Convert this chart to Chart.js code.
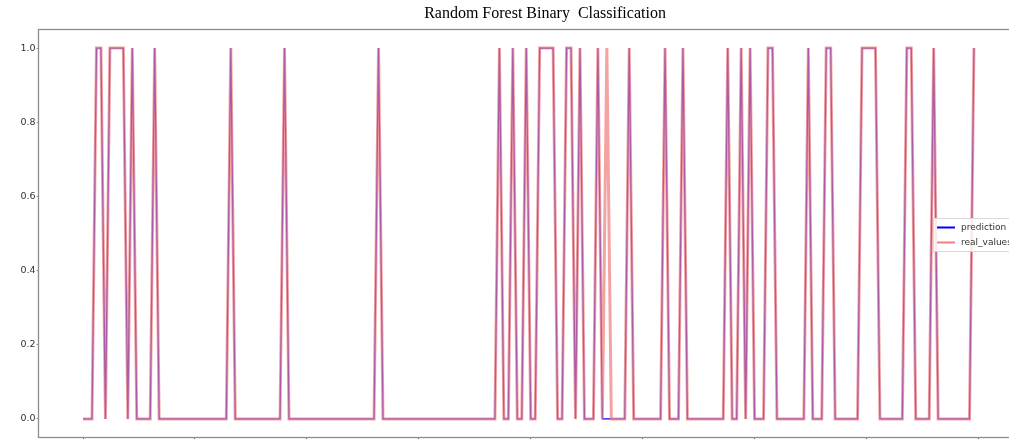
<!DOCTYPE html>
<html>
<head>
<meta charset="utf-8">
<title>Random Forest Binary Classification</title>
<script src="https://cdn.jsdelivr.net/npm/chart.js@4.4.1/dist/chart.umd.min.js"></script>
<style>
  html, body { margin: 0; padding: 0; background: #fff; overflow: hidden; width: 1009px; height: 439px; }
  #wrap { position: absolute; left: 0; top: 0; width: 1090px; height: 480px; }
</style>
</head>
<body>
<div id="wrap"><canvas id="c" width="1090" height="480"></canvas></div>
<script>
// Test-set labels (0 / 1), one entry per sample, in order
const realValues = [
  0,0,0,1,1,0,1,1,1,1,
  0,1,0,0,0,0,1,0,0,0,
  0,0,0,0,0,0,0,0,0,0,
  0,0,0,1,0,0,0,0,0,0,
  0,0,0,0,0,1,0,0,0,0,
  0,0,0,0,0,0,0,0,0,0,
  0,0,0,0,0,0,1,0,0,0,
  0,0,0,0,0,0,0,0,0,0,
  0,0,0,0,0,0,0,0,0,0,
  0,0,0,1,0,0,1,0,0,1,
  0,0,1,1,1,1,0,0,1,1,
  0,1,0,0,0,1,0,1,0,0,
  0,0,1,0,0,0,0,0,0,0,
  1,0,0,0,1,0,0,0,0,0,
  0,0,0,0,1,0,0,1,0,1,
  0,0,0,1,1,0,0,0,0,0,
  0,0,1,0,0,0,1,1,0,0,
  0,0,0,0,1,1,1,1,0,0,
  0,0,0,0,1,1,0,0,0,0,
  1,0,0,0,0,0,0,0,0,1
];

// Model output for the same samples
const prediction = [
  0,0,0,1,1,0,1,1,1,1,
  0,1,0,0,0,0,1,0,0,0,
  0,0,0,0,0,0,0,0,0,0,
  0,0,0,1,0,0,0,0,0,0,
  0,0,0,0,0,1,0,0,0,0,
  0,0,0,0,0,0,0,0,0,0,
  0,0,0,0,0,0,1,0,0,0,
  0,0,0,0,0,0,0,0,0,0,
  0,0,0,0,0,0,0,0,0,0,
  0,0,0,1,0,0,1,0,0,1,
  0,0,1,1,1,1,0,0,1,1,
  0,1,0,0,0,1,0,0,0,0,
  0,0,1,0,0,0,0,0,0,0,
  1,0,0,0,1,0,0,0,0,0,
  0,0,0,0,1,0,0,1,0,1,
  0,0,0,1,1,0,0,0,0,0,
  0,0,1,0,0,0,1,1,0,0,
  0,0,0,0,1,1,1,1,0,0,
  0,0,0,0,1,1,0,0,0,0,
  1,0,0,0,0,0,0,0,0,1
];

const seriesNames = ['prediction', 'real_values'];
const yTicks = [0.0, 0.2, 0.4, 0.6, 0.8, 1.0];
const xTicks = [0, 25, 50, 75, 100, 125, 150, 175, 200];
const chartTitle = 'Random Forest Binary  Classification';

const toPoints = arr => arr.map((v, i) => ({ x: i, y: v }));

// Box around the plotting area
const frame = {
  id: 'frame',
  afterDatasetsDraw(chart) {
    const a = chart.chartArea, ctx = chart.ctx;
    ctx.save();
    ctx.strokeStyle = '#8c8c8c';
    ctx.lineWidth = 1.3;
    ctx.strokeRect(a.left, a.top, a.right - a.left, a.bottom - a.top);
    ctx.restore();
  }
};

// Legend box drawn inside the plot, centred vertically on the right side
const insideLegend = {
  id: 'insideLegend',
  afterDraw(chart) {
    const ctx = chart.ctx;
    const ds = chart.data.datasets;
    const left = 933, top = 218, w = 82, rowH = 15;
    const h = rowH * ds.length + 3;
    ctx.save();
    ctx.fillStyle = 'rgba(255,255,255,0.85)';
    ctx.strokeStyle = '#d9d9d9';
    ctx.lineWidth = 1;
    ctx.beginPath();
    ctx.rect(left + 0.5, top + 0.5, w, h);
    ctx.fill();
    ctx.stroke();
    ctx.font = '9px "DejaVu Sans"';
    ctx.textBaseline = 'middle';
    ds.forEach((d, k) => {
      const y = top + 9.5 + k * rowH;
      ctx.strokeStyle = d.legendColor;
      ctx.lineWidth = 2;
      ctx.beginPath();
      ctx.moveTo(left + 4, y);
      ctx.lineTo(left + 22, y);
      ctx.stroke();
      ctx.fillStyle = '#333';
      ctx.fillText(d.label, left + 28, y);
    });
    ctx.restore();
  }
};

new Chart(document.getElementById('c'), {
  type: 'line',
  data: {
    datasets: [
      {
        label: seriesNames[0],
        data: toPoints(prediction),
        borderColor: '#0000ff',
        legendColor: '#0000ff',
        borderWidth: 1.3,
        pointRadius: 0,
        tension: 0,
        order: 1
      },
      {
        label: seriesNames[1],
        data: toPoints(realValues),
        borderColor: 'rgba(240,128,128,0.72)',
        legendColor: '#f08080',
        borderWidth: 3,
        pointRadius: 0,
        tension: 0,
        order: 0
      }
    ]
  },
  options: {
    responsive: false,
    animation: false,
    devicePixelRatio: 1,
    layout: { padding: 0 },
    plugins: {
      legend: { display: false },
      tooltip: { enabled: false },
      title: {
        display: true,
        text: chartTitle,
        color: '#000',
        font: { family: '"Liberation Serif", serif', size: 16, weight: 'normal', lineHeight: 1.2 },
        padding: { top: 4, bottom: 6.3 }
      }
    },
    scales: {
      x: {
        type: 'linear',
        min: -9.95,
        max: 208.95,
        afterBuildTicks: s => { s.ticks = xTicks.map(v => ({ value: v })); },
        afterFit: s => { s.height = 42.5; },
        grid: { drawOnChartArea: false, tickLength: 3, color: '#666' },
        border: { display: false },
        ticks: { font: { family: '"DejaVu Sans"', size: 9 }, color: '#333', maxRotation: 0 }
      },
      y: {
        type: 'linear',
        min: -0.05,
        max: 1.05,
        afterBuildTicks: s => { s.ticks = yTicks.map(v => ({ value: v })); },
        afterFit: s => { s.width = 38.5; },
        grid: { drawOnChartArea: false, tickLength: 2, color: '#999' },
        border: { display: false },
        ticks: {
          font: { family: '"DejaVu Sans"', size: 9.5 },
          color: '#333',
          padding: 1,
          callback: v => Number(v).toFixed(1)
        }
      },
      yRight: {
        type: 'linear',
        position: 'right',
        display: true,
        grid: { display: false },
        border: { display: false },
        ticks: { display: false },
        afterFit: s => { s.width = 71.5; }
      }
    }
  },
  plugins: [frame, insideLegend]
});
</script>
</body>
</html>
